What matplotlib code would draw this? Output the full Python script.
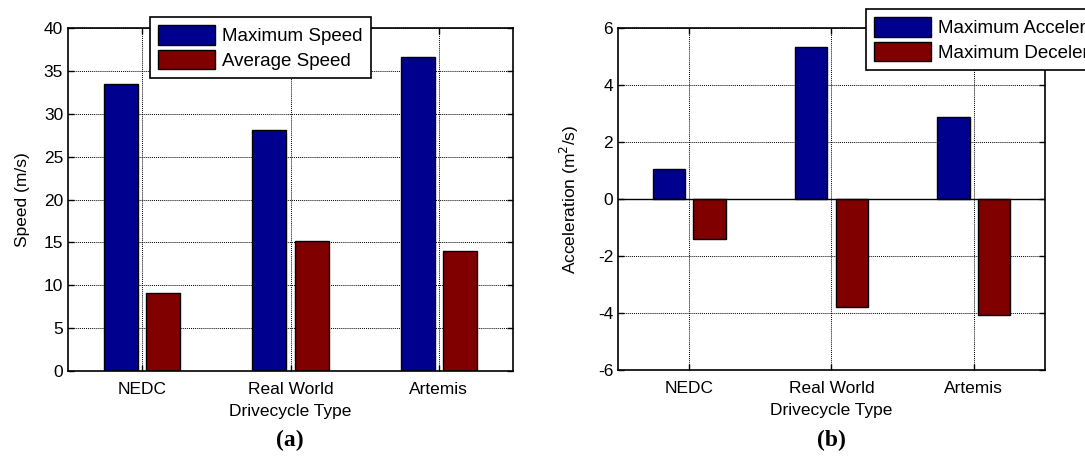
import numpy as np
import matplotlib
matplotlib.use("Agg")
import matplotlib.pyplot as plt

plt.rcParams['font.family'] = ['Liberation Sans', 'DejaVu Sans']
plt.rcParams['axes.unicode_minus'] = False

# drive cycle data
cycles = ["NEDC", "Real World", "Artemis"]
max_speed = [33.5, 28.1, 36.6]
avg_speed = [9.1, 15.2, 14.0]
max_acc = [1.06, 5.33, 2.87]
max_dec = [-1.41, -3.78, -4.08]

blue = "#00008F"
red = "#800000"
x = np.arange(1, len(cycles) + 1)
w = 0.229
off = 0.143
fs = 12.5

fig = plt.figure(figsize=(10.85, 4.61), dpi=100)
ax1 = fig.add_axes([0.0627, 0.1952, 0.4101, 0.744])
ax2 = fig.add_axes([0.5696, 0.1974, 0.3935, 0.7419])


def style(ax):
    ax.set_xlim(0.5, 3.5)
    ax.set_xticks(x)
    ax.set_xticklabels(cycles)
    ax.grid(True, color="black", linestyle=(0, (1, 1)), linewidth=0.7)
    ax.set_axisbelow(True)
    ax.tick_params(direction="in", top=True, right=True, labelsize=fs,
                   length=4, width=1)
    ax.tick_params(axis="x", pad=8)
    for s in ax.spines.values():
        s.set_linewidth(1.2)
    ax.set_xlabel("Drivecycle Type", fontsize=fs, labelpad=5)


def add_legend(ax, anchor):
    leg = ax.legend(loc="upper left", bbox_to_anchor=anchor,
                    bbox_transform=fig.transFigure, borderaxespad=0,
                    fontsize=13.5, fancybox=False, edgecolor="black",
                    framealpha=1, handlelength=3.0, handleheight=1.2,
                    handletextpad=0.4, labelspacing=0.25, borderpad=0.45)
    leg.get_frame().set_linewidth(1.2)
    return leg


# (a) speed
ax1.bar(x - off, max_speed, w, color=blue, edgecolor="black", linewidth=1,
        label="Maximum Speed")
ax1.bar(x + off, avg_speed, w, color=red, edgecolor="black", linewidth=1,
        label="Average Speed")
style(ax1)
ax1.set_ylim(0, 40)
ax1.set_yticks(range(0, 41, 5))
ax1.set_ylabel("Speed (m/s)", fontsize=fs, labelpad=10)
add_legend(ax1, (0.1382, 0.9631))

# (b) acceleration
ax2.bar(x - off, max_acc, w, color=blue, edgecolor="black", linewidth=1,
        label="Maximum Acceleration")
ax2.bar(x + off, max_dec, w, color=red, edgecolor="black", linewidth=1,
        label="Maximum Deceleration")
style(ax2)
ax2.set_ylim(-6, 6)
ax2.set_yticks(range(-6, 7, 2))
ax2.axhline(0, color="black", linewidth=1)
ax2.set_ylabel("Acceleration (m$^2$/s)", fontsize=fs, labelpad=12)
add_legend(ax2, (0.7982, 0.9805))

fig.text(0.2673, 0.045, "(a)", ha="center", va="center", fontsize=17,
         fontweight="bold", family="Liberation Serif")
fig.text(0.7664, 0.045, "(b)", ha="center", va="center", fontsize=17,
         fontweight="bold", family="Liberation Serif")

fig.savefig("out.png", dpi=100)
